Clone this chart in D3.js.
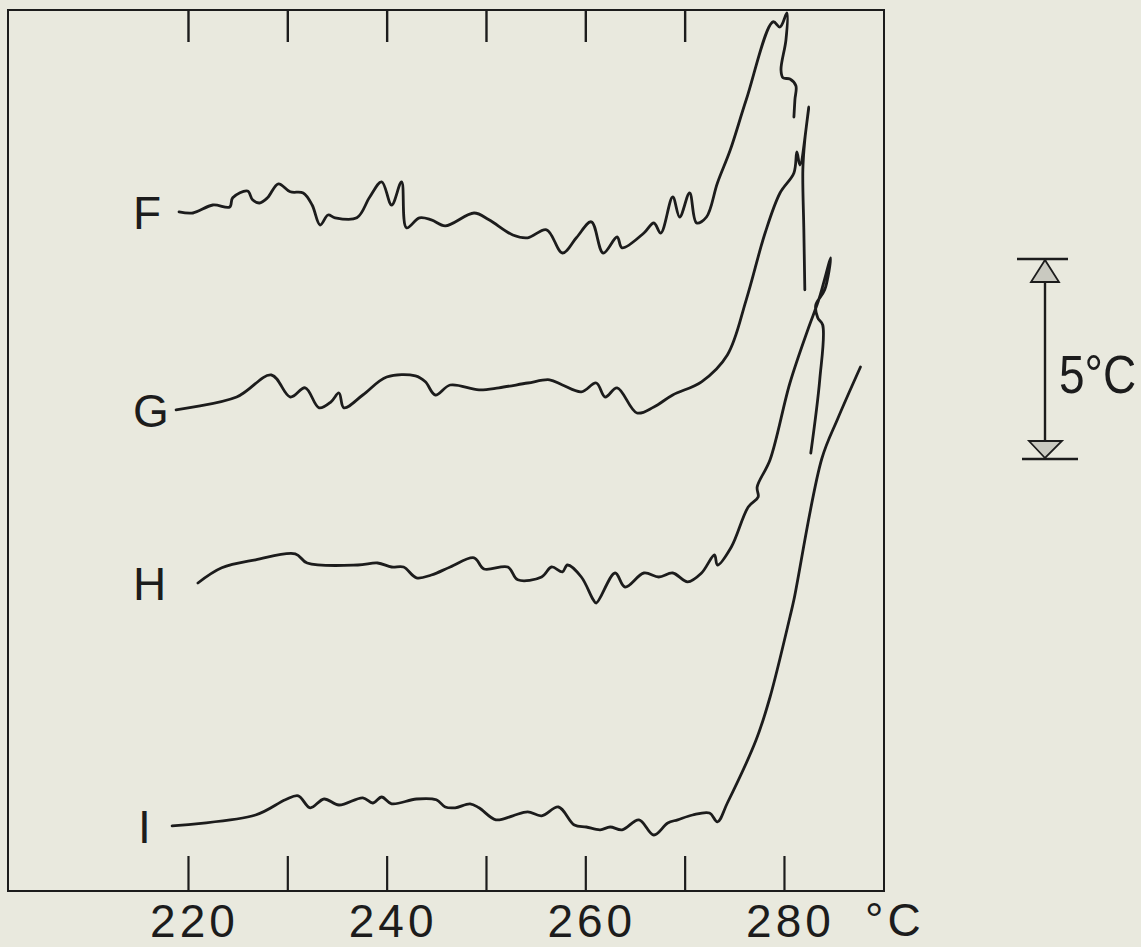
<!DOCTYPE html>
<html>
<head>
<meta charset="utf-8">
<script src="https://cdn.jsdelivr.net/npm/d3@7"></script>
<style>
  body { margin: 0; background: #e9e9de; }
  svg { display: block; }
</style>
</head>
<body>
<div id="drawing_region"></div>
<script>
// temperature (°C) vs differential signal (ΔT, °C)
const curveF = [[219.1,16.98],[220.5,16.95],[222.5,17.15],[224.2,17.1],[224.5,17.33],[226.0,17.5],[226.5,17.28],[227.2,17.2],[228.0,17.33],[229.1,17.68],[230.3,17.48],[231.6,17.45],[232.5,17.15],[233.3,16.65],[234.1,16.9],[234.8,16.83],[237.0,16.83],[238.3,17.35],[239.5,17.73],[240.5,17.15],[241.5,17.73],[242.0,16.58],[243.3,16.83],[244.5,16.78],[245.9,16.63],[248.8,16.95],[250.3,16.78],[252.7,16.4],[254.2,16.33],[256.1,16.53],[257.7,15.95],[259.1,16.33],[260.6,16.73],[261.8,15.95],[263.2,16.35],[263.7,16.08],[265.9,16.45],[266.9,16.7],[267.6,16.45],[268.8,17.35],[269.5,16.85],[270.5,17.45],[271.2,16.7],[272.2,16.85],[273.3,17.7],[274.6,18.53],[276.2,19.78],[278.9,21.73],[279.6,21.6],[280.3,21.95],[280.2,21.28],[279.7,20.53],[279.9,20.33],[280.6,20.3],[281.2,20.13],[281.1,19.78],[281.0,19.35]];
const curveG = [[218.8,12.03],[224.9,12.35],[228.4,12.9],[230.3,12.35],[231.8,12.58],[233.2,12.08],[234.4,12.23],[235.2,12.45],[235.7,12.08],[237.6,12.4],[240.0,12.85],[242.9,12.88],[243.9,12.73],[244.9,12.4],[246.4,12.65],[249.3,12.53],[251.3,12.58],[254.2,12.7],[256.4,12.78],[257.7,12.65],[259.6,12.48],[261.1,12.7],[262.0,12.35],[263.2,12.58],[265.2,11.95],[266.9,12.1],[268.8,12.4],[271.7,12.73],[274.3,13.4],[276.2,14.78],[278.1,16.45],[279.6,17.45],[281.0,17.95],[281.3,18.48],[281.6,18.15],[282.5,19.6],[282.1,18.78],[281.9,18.03],[282.0,16.53],[282.1,15.03]];
const curveH = [[221.0,7.7],[223.4,8.08],[226.8,8.28],[230.8,8.43],[232.0,8.2],[237.1,8.15],[239.1,8.2],[240.5,8.1],[241.7,8.1],[243.0,7.83],[244.5,7.9],[246.4,8.1],[248.8,8.33],[249.8,8.05],[252.2,8.1],[253.2,7.78],[255.6,7.85],[256.6,8.1],[257.7,7.98],[258.2,8.15],[259.6,7.85],[260.8,7.28],[261.1,7.2],[263.0,7.95],[264.0,7.6],[265.9,7.95],[267.4,7.85],[268.8,7.95],[270.3,7.73],[271.7,7.95],[273.0,8.4],[273.3,8.15],[274.7,8.6],[276.4,9.6],[277.4,9.85],[277.3,10.1],[278.6,10.78],[280.6,12.7],[282.5,14.1],[283.5,14.78],[284.7,15.83],[284.1,15.03],[283.2,14.65],[283.4,14.33],[283.9,14.15],[283.6,12.78],[282.7,10.95]];
const curveI = [[218.4,1.63],[226.8,1.9],[229.8,2.28],[231.1,2.38],[232.3,2.08],[233.7,2.3],[235.2,2.15],[237.6,2.33],[238.6,2.2],[239.5,2.35],[240.5,2.18],[243.0,2.3],[245.0,2.28],[245.9,2.1],[246.9,2.08],[248.4,2.18],[249.3,2.08],[251.0,1.78],[252.7,1.88],[254.2,1.98],[255.6,1.88],[257.3,2.1],[258.9,1.65],[260.1,1.6],[261.5,1.53],[262.5,1.6],[263.7,1.53],[265.4,1.78],[266.9,1.4],[268.3,1.7],[269.3,1.78],[270.8,1.9],[272.5,1.95],[273.3,1.73],[274.3,2.2],[277.2,3.78],[278.6,4.85],[280.6,6.85],[281.0,7.28],[283.8,10.8],[285.4,11.8],[287.7,13.1]];

const curveNames = ['F', 'G', 'H', 'I'];
const curves = [curveF, curveG, curveH, curveI];

const bottomTicks = [220, 230, 240, 250, 260, 270, 280];
const topTicks = [220, 230, 240, 250, 260, 270];
const tickLabels = [220, 240, 260, 280];
const scaleBar = [10.8, 15.8];   // 5 °C bar
const scaleBarLabel = '5°C';

var config = {
    parent: '#drawing_region',
    width: 1141,
    height: 947,
    frame: { left: 8, right: 884, top: 10, bottom: 891 },
    xDomain: [201.88, 290.07],
    yDomain: [0, 22],
};

class DscChart {
    constructor(config) {
        this.config = config;
        this.init();
    }

    init() {
        let self = this;
        let f = self.config.frame;

        self.svg = d3.select(self.config.parent)
            .append('svg')
            .attr('width', self.config.width)
            .attr('height', self.config.height);

        self.xscale = d3.scaleLinear()
            .domain(self.config.xDomain)
            .range([f.left, f.right]);

        self.yscale = d3.scaleLinear()
            .domain(self.config.yDomain)
            .range([f.bottom, f.top + 1]);

        self.line = d3.line()
            .x(d => self.xscale(d[0]))
            .y(d => self.yscale(d[1]))
            .curve(d3.curveCatmullRom.alpha(0.5));
    }

    render() {
        let self = this;
        let f = self.config.frame;
        const ink = '#1c1c1c';
        const font = '"Liberation Sans", Arial, sans-serif';

        // frame
        self.svg.append('rect')
            .attr('x', f.left).attr('y', f.top)
            .attr('width', f.right - f.left).attr('height', f.bottom - f.top)
            .attr('fill', 'none').attr('stroke', ink).attr('stroke-width', 2);

        const bottomAxis = d3.axisBottom(self.xscale)
            .tickValues(bottomTicks)
            .tickSizeInner(-35)
            .tickSizeOuter(0)
            .tickPadding(13)
            .tickFormat(d => tickLabels.includes(d) ? d : '');

        const gb = self.svg.append('g')
            .attr('transform', `translate(0,${f.bottom})`)
            .call(bottomAxis);
        gb.select('.domain').remove();
        gb.selectAll('.tick line').attr('stroke', ink).attr('stroke-width', 2.2);
        gb.selectAll('.tick text')
            .attr('fill', ink)
            .attr('dx', 6)
            .style('font-family', font)
            .style('font-size', '46px')
            .style('letter-spacing', '4px');

        const topAxis = d3.axisTop(self.xscale)
            .tickValues(topTicks)
            .tickSizeInner(-32)
            .tickSizeOuter(0)
            .tickFormat('');

        const gt = self.svg.append('g')
            .attr('transform', `translate(0,${f.top})`)
            .call(topAxis);
        gt.select('.domain').remove();
        gt.selectAll('.tick line').attr('stroke', ink).attr('stroke-width', 2.4);

        self.svg.append('text')
            .attr('x', 865).attr('y', 936)
            .attr('fill', ink)
            .style('font-family', font)
            .style('font-size', '46px')
            .style('letter-spacing', '4px')
            .text('°C');

        // traces
        self.svg.selectAll('path.trace')
            .data(curves)
            .enter()
            .append('path')
            .attr('class', 'trace')
            .attr('d', self.line)
            .attr('fill', 'none')
            .attr('stroke', ink)
            .attr('stroke-width', 2.8)
            .attr('stroke-linejoin', 'round')
            .attr('stroke-linecap', 'round');

        // trace letters, set just left of each trace's start
        self.svg.selectAll('text.name')
            .data(curves)
            .enter()
            .append('text')
            .attr('class', 'name')
            .attr('x', (d, i) => curveNames[i] === 'I' ? 138 : 133)
            .attr('y', d => self.yscale(d[0][1]) + 17)
            .attr('fill', ink)
            .style('font-family', font)
            .style('font-size', '46px')
            .text((d, i) => curveNames[i]);

        // 5 °C scale bar
        const bx = 1045;
        const yTop = self.yscale(scaleBar[1]);
        const yBot = self.yscale(scaleBar[0]);
        const bar = self.svg.append('g');
        bar.append('line')
            .attr('x1', bx).attr('x2', bx).attr('y1', yTop).attr('y2', yBot)
            .attr('stroke', ink).attr('stroke-width', 2.4);
        bar.append('line')
            .attr('x1', 1017).attr('x2', 1068).attr('y1', yTop).attr('y2', yTop)
            .attr('stroke', ink).attr('stroke-width', 2.4);
        bar.append('line')
            .attr('x1', 1022).attr('x2', 1078).attr('y1', yBot).attr('y2', yBot)
            .attr('stroke', ink).attr('stroke-width', 2.4);
        bar.append('path')
            .attr('d', `M${bx},${yTop + 1} L${bx - 14},${yTop + 23} L${bx + 14},${yTop + 23} Z`)
            .attr('fill', '#c9c9c0').attr('stroke', ink).attr('stroke-width', 1.8);
        bar.append('path')
            .attr('d', `M${bx},${yBot - 1} L${bx - 16},${yBot - 18} L${bx + 17},${yBot - 18} Z`)
            .attr('fill', '#c9c9c0').attr('stroke', ink).attr('stroke-width', 1.8);
        bar.append('text')
            .attr('transform', 'translate(1059,393) scale(1,1.18)')
            .attr('fill', ink)
            .style('font-family', font)
            .style('font-size', '46px')
            .text(scaleBarLabel);
    }
}

let chart = new DscChart(config);
chart.render();
</script>
</body>
</html>
